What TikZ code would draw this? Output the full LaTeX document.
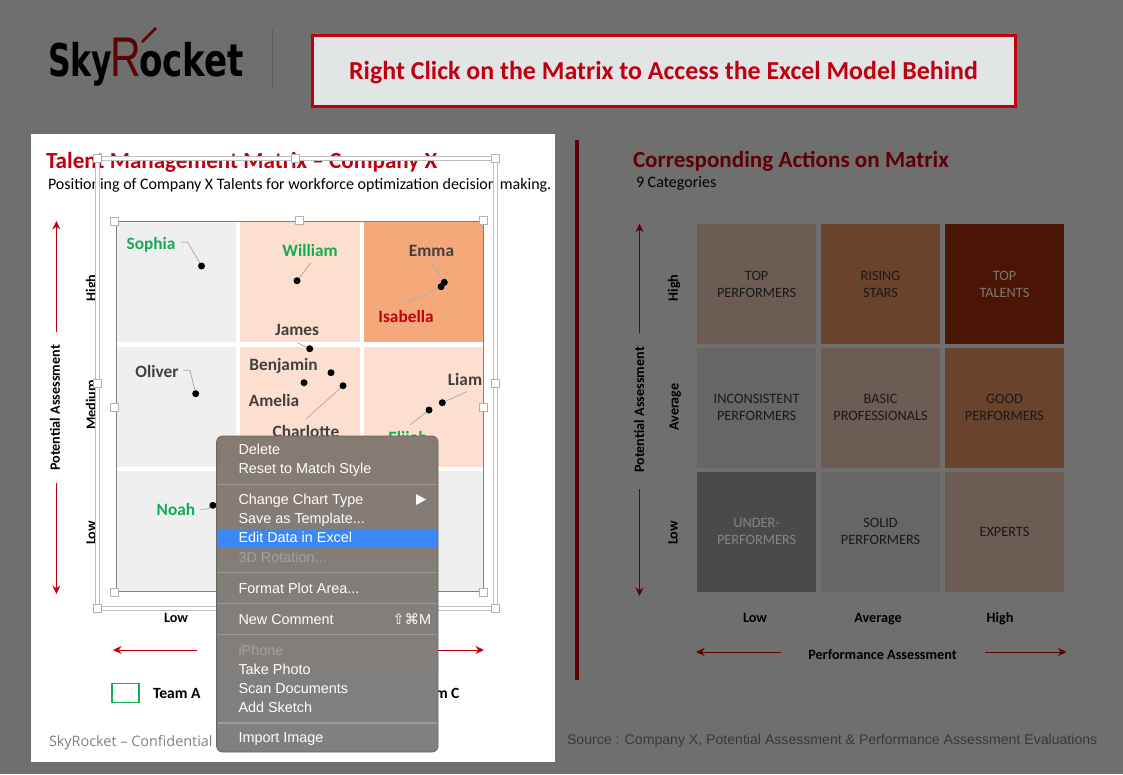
\documentclass[tikz,border=0pt]{standalone}
\usepackage{fontspec}
\usepackage{xcolor}
\setmainfont{Carlito}
\newfontfamily\menufont{Liberation Sans}
\newfontfamily\symfont{DejaVu Sans}
\newfontfamily\footfont{Open Sans}
\usetikzlibrary{shapes,arrows,positioning,fit,arrows.meta}
\definecolor{backgrey}{HTML}{6F6F6F}
\definecolor{bannerfill}{HTML}{E2E5E6}
\definecolor{brightred}{HTML}{C00010}
\definecolor{darkred}{HTML}{5F0006}
\definecolor{logored}{HTML}{5A0505}
\definecolor{teamgreen}{HTML}{12AD50}
\definecolor{labelgrey}{HTML}{404040}
\definecolor{cellgrey}{HTML}{EFEFEF}
\definecolor{cellpeach}{HTML}{FCDFCE}
\definecolor{cellorange}{HTML}{F5A97A}
\definecolor{dimtaupe}{HTML}{6C5C54}
\definecolor{dimbrown}{HTML}{6A432C}
\definecolor{dimmaroon}{HTML}{4B1506}
\definecolor{dimgreyA}{HTML}{666666}
\definecolor{dimgreyB}{HTML}{4A4A4A}
\definecolor{menublue}{HTML}{3A87F7}
\definecolor{menuline}{HTML}{9C9C9C}
\definecolor{menudim}{HTML}{A2A2A2}
\definecolor{menutop}{HTML}{867B72}
\definecolor{menubottom}{HTML}{808080}

\begin{document}
\begin{tikzpicture}[
            x=1pt, y=-1pt,
            txt/.style={inner sep=0, outer sep=0, text depth=0pt},
            cellleft/.style={rectangle, inner sep=0, minimum width=119.5pt, minimum height=120pt},
            cellright/.style={rectangle, inner sep=0, minimum width=118.9pt, minimum height=119.5pt, align=center, font=\fontsize{14.3}{17}\selectfont, text=black!90},
            sizer/.style={rectangle, draw=black!30, fill=white, line width=0.6pt, inner sep=0, minimum size=8pt},
            person/.style={txt, font=\fontsize{17.3}{19}\selectfont\bfseries, text=labelgrey},
            persongreen/.style={person, text=teamgreen},
            blackdot/.style={circle, fill=black, inner sep=0, minimum size=7pt},
            leader/.style={draw=black!32, line width=0.8pt},
            axislabel/.style={txt, font=\fontsize{14.2}{16}\selectfont\bfseries, text=black},
            redarrow/.style={-{Stealth[length=8.5pt,width=8pt]}, draw=brightred, line width=0.9pt},
            darkarrow/.style={-{Stealth[length=8.5pt,width=8pt]}, draw=darkred, line width=0.9pt},
            menuitem/.style={txt, anchor=west, font=\fontsize{14.4}{16}\menufont, text=white},
            menuoff/.style={menuitem, text=menudim},
            menusep/.style={draw=menuline, line width=1.6pt}
        ]

        % page and panel
        \fill[backgrey] (0,0) rectangle (1123,774);
        \useasboundingbox (0,0) rectangle (1123,774);
        \fill[white] (31,134) rectangle (555,762);

        % logo
        \node[txt, font=\fontsize{45}{45}\symfont\bfseries, xscale=0.7, anchor=base west] (logosky) at (48,76) {Sky};
        \node[txt, font=\fontsize{56}{56}\menufont, text=logored, xscale=0.76, anchor=base west] (logor) at (110,76) {R};
        \node[txt, font=\fontsize{45}{45}\symfont\bfseries, xscale=0.76, anchor=base west] (logoocket) at (139,76) {ocket};
        \coordinate (ticka) at (142,42);
        \coordinate (tickb) at (156,28);
        \draw[logored, line width=2.5pt] (ticka) -- (tickb);
        \draw[black!20!backgrey, line width=0.8pt] (272.5,30) -- (272.5,89);

        % banner
        \node[rectangle, draw=brightred, fill=bannerfill, line width=3pt, minimum width=703pt, minimum height=71pt, text=brightred, font=\fontsize{25.9}{28}\selectfont\bfseries] (banner) at (663.5,71) {\raisebox{-8pt}[0pt][0pt]{Right Click on the Matrix to Access the Excel Model Behind}};

        % left titles
        \node[txt, anchor=west, text=brightred, font=\fontsize{23.1}{26}\selectfont\bfseries] (lefttitle) at (46,160) {Talent Management Matrix -- Company X};
        \node[txt, anchor=west, text=black, font=\fontsize{16}{18}\selectfont] (leftsub) at (48,184) {Positioning of Company X Talents for workforce optimization decision making.};

        % left matrix
        \node[cellleft, fill=cellgrey, anchor=north west] (la) at (116,222) {};
        \node[cellleft, fill=cellpeach, right=4pt of la] (lb) {};
        \node[cellleft, fill=cellorange, right=4pt of lb] (lc) {};
        \node[cellleft, fill=cellgrey, below=4pt of la] (ld) {};
        \node[cellleft, fill=cellpeach, right=4pt of ld] (le) {};
        \node[cellleft, fill=cellpeach, right=4pt of le] (lf) {};
        \node[cellleft, fill=cellgrey, below=4pt of ld] (lg) {};
        \node[cellleft, fill=cellgrey, right=4pt of lg] (lh) {};
        \node[cellleft, fill=cellgrey, right=4pt of lh] (li) {};

        % names and points
        \node[persongreen] (sophia) at (151,243) {Sophia};
        \node[persongreen] (william) at (310,250) {William};
        \node[person] (emma) at (431.5,251) {Emma};
        \node[person, text=brightred] (isabella) at (406,316) {Isabella};
        \node[person] (james) at (297,330) {James};
        \node[person] (benjamin) at (283.5,364.5) {Benjamin};
        \node[person] (amelia) at (274,400) {Amelia};
        \node[person] (charlotte) at (306,431) {Charlotte};
        \node[person] (liam) at (465,379) {Liam};
        \node[persongreen] (elijah) at (408,437) {Elijah};
        \node[person] (oliver) at (157,371) {Oliver};
        \node[persongreen] (noah) at (176,509) {Noah};

        \node[blackdot] (sophiapt) at (201.5,266) {};
        \node[blackdot] (williampt) at (297,280.7) {};
        \node[blackdot] (emmapt) at (444.3,282.3) {};
        \node[blackdot] (isabellapt) at (441,286.7) {};
        \node[blackdot] (jamespt) at (309.7,348.7) {};
        \node[blackdot] (benjaminpt) at (331,372.7) {};
        \node[blackdot] (ameliapt) at (304,382.7) {};
        \node[blackdot] (charlottept) at (343,385.7) {};
        \node[blackdot] (liampt) at (442.3,402.7) {};
        \node[blackdot] (elijahpt) at (429,410) {};
        \node[blackdot] (oliverpt) at (195.7,393.7) {};
        \node[blackdot] (noahpt) at (212.9,505.3) {};

        \coordinate (sophiaend) at (181,242.3);
        \coordinate (sophiabend) at (187.7,242.3);
        \coordinate (williamend) at (311,262.7);
        \coordinate (emmaend) at (432,263.3);
        \coordinate (isabellaend) at (406.7,303.3);
        \coordinate (jamesend) at (297.3,342.7);
        \coordinate (charlotteend) at (306,419);
        \coordinate (liamend) at (466.7,391.7);
        \coordinate (elijahend) at (410.3,424.7);
        \coordinate (oliverend) at (183.3,370.3);
        \coordinate (oliverbend) at (190,370.3);
        \coordinate (noahend) at (200,509.3);
        \coordinate (noahbend) at (207.5,509);

        \draw[leader] (sophiaend) -- (sophiabend) -- (sophiapt);
        \draw[leader] (williamend) -- (williampt);
        \draw[leader] (emmaend) -- (emmapt);
        \draw[leader] (isabellaend) -- (isabellapt);
        \draw[leader] (jamesend) -- (jamespt);
        \draw[leader] (charlotteend) -- (charlottept);
        \draw[leader] (liamend) -- (liampt);
        \draw[leader] (elijahend) -- (elijahpt);
        \draw[leader] (oliverend) -- (oliverbend) -- (oliverpt);
        \draw[leader] (noahend) -- (noahbend) -- (noahpt);

        % left axes
        \node[axislabel, rotate=90] (lhigh) at (91,288) {High};
        \node[axislabel, rotate=90] (lmedium) at (91,405) {Medium};
        \node[axislabel, rotate=90] (llow) at (91,533) {Low};
        \node[axislabel] (lxlow) at (176,618) {Low};
        \node[axislabel, rotate=90] (lpotential) at (55,408) {Potential Assessment};
        \coordinate (lupstart) at (56.4,332);
        \coordinate (luptip) at (56.4,221);
        \coordinate (ldownstart) at (56.4,483);
        \coordinate (ldowntip) at (56.4,594);
        \draw[redarrow] (lupstart) -- (luptip);
        \draw[redarrow] (ldownstart) -- (ldowntip);
        \coordinate (lleftstart) at (197,650);
        \coordinate (llefttip) at (113,650);
        \coordinate (lrightstart) at (430,650);
        \coordinate (lrighttip) at (484,650);
        \draw[redarrow] (lleftstart) -- (llefttip);
        \draw[redarrow] (lrightstart) -- (lrighttip);

        % legend and footer
        \node[rectangle, draw=teamgreen, line width=1.8pt, minimum width=27pt, minimum height=19pt, inner sep=0] (teamabox) at (125.7,693) {};
        \node[axislabel, anchor=west, font=\fontsize{15.6}{17}\selectfont\bfseries] (teama) at (153,693) {Team A};
        \node[axislabel, anchor=east, font=\fontsize{15.6}{17}\selectfont\bfseries] (teamc) at (459.5,693) {Team C};
        \node[txt, anchor=west, text=black!50, font=\fontsize{14.4}{16}\footfont] (confidential) at (49,741) {SkyRocket – Confidential};

        % selection frames
        \draw[black!25, line width=5pt] (97,158) rectangle (495,608);
        \draw[white, line width=3pt] (97,158) rectangle (495,608);
        \draw[black!50, line width=0.9pt] (116,221) rectangle (483,591);
        \node[sizer] (outerA) at (97,158) {};
        \node[sizer] (outerB) at (295,158) {};
        \node[sizer] (outerC) at (495,158) {};
        \node[sizer] (outerD) at (97,383) {};
        \node[sizer] (outerE) at (495,383) {};
        \node[sizer] (outerF) at (97,608) {};
        \node[sizer] (outerG) at (495,608) {};
        \node[sizer] (plotA) at (114.5,221) {};
        \node[sizer] (plotB) at (299,220.5) {};
        \node[sizer] (plotC) at (483.5,220.5) {};
        \node[sizer] (plotD) at (114.5,407) {};
        \node[sizer] (plotE) at (483.5,407) {};
        \node[sizer] (plotF) at (114.5,592) {};
        \node[sizer] (plotG) at (483.5,592) {};

        % context menu
        \draw[black!60, line width=0.8pt, rounded corners=6pt, top color=menutop, bottom color=menubottom] (216.6,436) rectangle (438,752);
        \fill[menublue] (218,528.8) rectangle (437,547.3);
        \node[menuitem] (mdelete) at (238.5,449.5) {Delete};
        \node[menuitem] (mreset) at (238.5,468.5) {Reset to Match Style};
        \node[menuitem] (mchange) at (238.5,499.5) {Change Chart Type};
        \node[menuitem] (msave) at (238.5,518.5) {Save as Template...};
        \node[menuitem] (medit) at (238.5,537.5) {Edit Data in Excel};
        \node[menuoff] (mrotation) at (238.5,557) {3D Rotation...};
        \node[menuitem] (mformat) at (238.5,588) {Format Plot Area...};
        \node[menuitem] (mcomment) at (238.5,619) {New Comment};
        \node[menuitem, anchor=east] (mshortcut) at (431,619) {{\symfont ⇧⌘}M};
        \node[menuoff] (miphone) at (238.5,650) {iPhone};
        \node[menuitem] (mphoto) at (238.5,669) {Take Photo};
        \node[menuitem] (mscan) at (238.5,688) {Scan Documents};
        \node[menuitem] (msketch) at (238.5,707) {Add Sketch};
        \node[menuitem] (mimport) at (238.5,738) {Import Image};
        \fill[white] (416,494) -- (426,499.5) -- (416,505) -- cycle;
        \draw[menusep] (218,484.5) -- (437,484.5);
        \draw[menusep] (218,572.5) -- (437,572.5);
        \draw[menusep] (218,603.5) -- (437,603.5);
        \draw[menusep] (218,634.5) -- (437,634.5);
        \draw[menusep] (218,723) -- (437,723);

        % divider
        \fill[darkred] (574.8,140) rectangle (578.8,680);

        % right titles
        \node[txt, anchor=west, text=darkred, font=\fontsize{23.1}{26}\selectfont\bfseries] (righttitle) at (633,159.5) {Corresponding Actions on Matrix};
        \node[txt, anchor=west, text=black, font=\fontsize{16}{18}\selectfont] (rightsub) at (636,182) {9 Categories};

        % right matrix
        \node[cellright, fill=dimtaupe, anchor=north west] (ra) at (697,224) {TOP\\PERFORMERS};
        \node[cellright, fill=dimbrown, right=4.6pt of ra] (rb) {RISING\\STARS};
        \node[cellright, fill=dimmaroon, right=4.6pt of rb, text=dimtaupe!85!white] (rc) {TOP\\TALENTS};
        \node[cellright, fill=dimgreyA, below=4pt of ra] (rd) {INCONSISTENT\\PERFORMERS};
        \node[cellright, fill=dimtaupe, right=4.6pt of rd] (re) {BASIC\\PROFESSIONALS};
        \node[cellright, fill=dimbrown, right=4.6pt of re] (rf) {GOOD\\PERFORMERS};
        \node[cellright, fill=dimgreyB, below=4pt of rd, text=black!48] (rg) {UNDER-\\PERFORMERS};
        \node[cellright, fill=dimgreyA, right=4.6pt of rg] (rh) {SOLID\\PERFORMERS};
        \node[cellright, fill=dimtaupe, right=4.6pt of rh] (ri) {EXPERTS};

        % right axes
        \node[axislabel, rotate=90] (rhigh) at (673,288) {High};
        \node[axislabel, rotate=90] (raverage) at (674,407) {Average};
        \node[axislabel, rotate=90] (rlow) at (673,533) {Low};
        \node[axislabel] (rxlow) at (755,617.5) {Low};
        \node[axislabel] (rxaverage) at (878,617.5) {Average};
        \node[axislabel] (rxhigh) at (1000,617.5) {High};
        \node[axislabel, rotate=90] (rpotential) at (639,410) {Potential Assessment};
        \node[axislabel] (rperformance) at (882.5,655) {Performance Assessment};
        \coordinate (rupstart) at (639.5,333);
        \coordinate (ruptip) at (639.5,223.7);
        \coordinate (rdownstart) at (639.5,489);
        \coordinate (rdowntip) at (639.5,596);
        \draw[darkarrow] (rupstart) -- (ruptip);
        \draw[darkarrow] (rdownstart) -- (rdowntip);
        \coordinate (rleftstart) at (780.7,652);
        \coordinate (rlefttip) at (696,652);
        \coordinate (rrightstart) at (985,652);
        \coordinate (rrighttip) at (1066.5,652);
        \draw[darkarrow] (rleftstart) -- (rlefttip);
        \draw[darkarrow] (rrightstart) -- (rrighttip);

        % source
        \node[txt, anchor=west, text=black!78, font=\fontsize{14.1}{18}\menufont] (source) at (567,739.5) {Source : Company X, Potential Assessment \& Performance Assessment Evaluations};

    \end{tikzpicture}
\end{document}
